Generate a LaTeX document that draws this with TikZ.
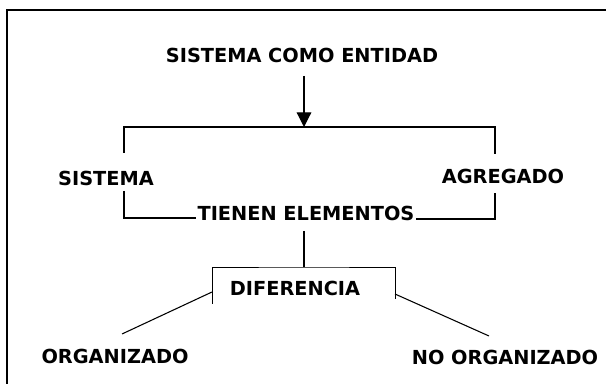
\documentclass[tikz,border=0pt]{standalone}
\usepackage{fontspec}
\setmainfont{DejaVu Sans}
\usetikzlibrary{arrows.meta,positioning}

\begin{document}
\begin{tikzpicture}[x=0.75pt, y=-0.75pt,
     txt/.style = {font=\fontsize{14.5}{17}\selectfont\bfseries,
       inner sep=1pt}, % text of the scheme
     line/.style = {draw, line width=0.9pt}, % plain connectors
     arrow/.style = {line, -{Triangle[length=11pt, width=11pt]}},
     ]
     \useasboundingbox (0,0) rectangle (606,384);
     % frame
     \draw[line] (606,10) -- (7,10) -- (7,384);

     \node[txt] (title) at (302,55) {SISTEMA COMO ENTIDAD};
     \node[txt] (sis) at (106,178) {SISTEMA};
     \node[txt] (agr) at (503,176) {AGREGADO};
     \node[txt] (tien) at (306,213) {TIENEN ELEMENTOS};
     \node[txt] (dif) at (295,288) {DIFERENCIA};
     \node[txt] (org) at (115,356) {ORGANIZADO};
     \node[txt] (norg) at (505,357) {NO ORGANIZADO};

     \coordinate (a0) at (304,76);
     \coordinate (t1) at (304,127);
     \coordinate (b0) at (304,231);
     \coordinate (b1) at (304,267);
     \coordinate (o1) at (122,334);
     \coordinate (n1) at (489,336);

     \draw[arrow] (a0) -- (t1);
     \draw[line] (124,153) -- (124,127) -- (t1) -- (495,127) -- (495,154);
     \draw[line] (124,191) -- (124,218) -- (tien.west |- 0,218);
     \draw[line] (tien.east |- 0,219) -- (495,219) -- (495,193);
     \draw[line] (b0) -- (b1);
     \draw[line, line width=0.7pt] (212,304) -- (212,267) -- (b1)
       -- (395,267) -- (395,299);
     \draw[line, line width=0.8pt] (212,292) -- (o1);
     \draw[line, line width=0.8pt] (395,294) -- (n1);
   \end{tikzpicture}
\end{document}
